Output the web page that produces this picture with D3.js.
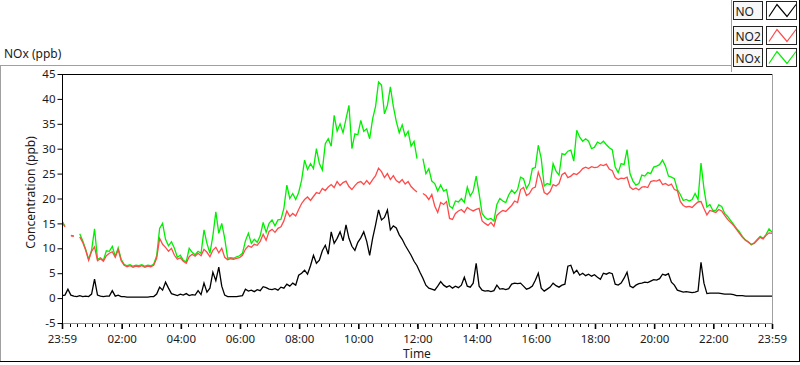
<!DOCTYPE html>
<html><head><meta charset="utf-8">
<script src="https://cdn.jsdelivr.net/npm/d3@7"></script>
<style>
body{margin:0;background:#fff;}
text{font-family:"Noto Sans","Segoe UI",sans-serif;fill:#1a1a1a;}
</style></head>
<body><svg id="c" width="800" height="365"></svg>
<script>
// ---- data (6-minute samples from 23:59 to 23:59 next day) ----
const startTime = new Date(2024, 0, 1, 23, 59);
const endTime = new Date(2024, 0, 2, 23, 59);
const sampleStepMinutes = 6;
const seriesNames = ["NO", "NO2", "NOx"];
const seriesColors = ["#000000", "#ff4a4a", "#00ee00"];
const yTickValues = [-5, 0, 5, 10, 15, 20, 25, 30, 35, 40, 45];
const xTickLabels = ["23:59","02:00","04:00","06:00","08:00","10:00","12:00","14:00","16:00","18:00","20:00","22:00","23:59"];
const xTickTimes = ["2024-01-01T23:59","2024-01-02T02:00","2024-01-02T04:00","2024-01-02T06:00","2024-01-02T08:00","2024-01-02T10:00","2024-01-02T12:00","2024-01-02T14:00","2024-01-02T16:00","2024-01-02T18:00","2024-01-02T20:00","2024-01-02T22:00","2024-01-02T23:59"];

const no2 = [
15.3,14.3,null,12.5,12.4,null,12.3,11.2,9.6,7.6,9.4,10.3,7.5,7.9,7.4,8.5,9.0,9.3,8.2,9.7,
7.5,6.6,6.3,6.5,6.2,6.4,6.3,6.5,6.2,6.4,6.3,6.6,8.0,12.0,10.8,10.2,9.4,10.0,8.6,7.8,
8.1,7.4,7.0,8.3,8.8,8.4,9.0,8.5,9.8,9.2,8.3,9.6,10.2,9.1,10.0,8.2,7.7,7.9,7.8,8.0,
8.1,8.6,9.8,10.5,10.2,10.8,10.6,11.4,12.8,11.6,13.4,13.8,13.2,14.0,14.3,15.5,17.5,16.4,17.0,16.5,
17.8,19.0,19.8,20.3,19.6,20.4,21.2,21.0,22.0,21.6,22.3,22.8,22.2,23.4,22.6,23.2,23.5,22.4,21.8,22.6,
23.2,23.4,22.8,23.6,22.9,23.8,24.6,26.1,25.4,24.2,25.0,23.8,24.6,23.6,23.2,23.8,22.9,23.4,22.4,21.8,
21.3,null,21.0,20.6,19.8,20.8,18.5,17.2,19.2,18.8,19.4,16.0,15.8,17.0,17.5,17.8,17.2,18.2,17.8,17.5,
17.8,18.0,15.5,15.0,14.6,15.2,14.4,16.6,17.2,17.6,17.4,18.0,18.6,19.5,19.2,21.8,22.2,20.6,21.0,22.0,
22.3,25.3,23.6,21.2,20.8,21.4,22.8,22.5,23.0,24.8,25.2,24.2,24.5,25.0,24.8,25.3,26.0,26.3,26.0,26.4,
26.2,26.3,26.8,26.6,26.9,25.9,25.6,24.2,23.8,24.1,24.0,24.3,22.3,21.8,22.1,21.7,22.3,22.4,22.2,23.4,
23.6,23.5,23.8,22.8,23.0,22.6,22.9,21.8,21.6,19.4,18.6,18.3,18.4,18.2,18.8,19.3,19.4,18.0,16.7,17.6,
17.4,17.2,17.8,17.5,16.6,15.8,15.2,14.6,13.8,13.0,12.2,11.6,11.2,10.8,11.0,11.6,12.2,11.9,12.6,13.1,
13.0];

const nox = [
15.5,14.4,null,12.6,12.5,null,12.9,11.5,9.8,7.8,9.6,13.9,7.8,8.1,7.6,9.5,9.4,10.4,8.4,10.1,
7.8,6.8,6.5,6.7,6.4,6.6,6.5,6.7,6.4,6.6,6.5,6.8,8.5,14.0,15.0,11.8,10.5,11.3,10.0,8.2,
8.6,7.6,7.3,10.0,9.2,8.7,9.4,9.0,13.7,11.0,9.0,12.5,17.3,13.0,15.0,12.0,8.0,8.1,8.0,8.3,
8.5,9.0,11.5,13.0,11.0,11.8,11.2,12.5,15.2,13.2,15.0,15.7,14.5,15.7,15.8,18.0,22.7,20.0,21.0,19.8,
21.2,23.7,27.7,25.8,27.0,26.0,30.0,27.0,25.7,31.0,32.0,30.5,36.7,33.5,35.0,33.2,36.0,38.7,30.0,33.0,
32.8,35.7,33.5,34.0,32.0,36.0,38.5,43.4,42.8,37.0,38.7,42.4,38.5,35.5,33.2,34.8,32.5,33.5,30.5,31.5,
28.0,null,28.0,25.0,26.0,23.5,23.0,21.5,22.7,21.5,21.8,18.5,18.0,19.5,19.3,20.0,19.2,22.3,20.5,21.5,
24.5,21.0,17.0,16.2,15.8,16.0,15.5,18.8,20.0,19.5,19.2,20.7,21.7,21.0,21.8,24.3,24.0,22.0,23.0,26.0,
26.2,30.7,28.0,22.5,23.0,22.8,27.0,25.5,24.7,29.0,28.8,29.5,29.7,27.5,33.7,32.3,31.5,32.0,31.5,30.0,
30.3,31.3,31.0,31.5,30.8,30.2,29.8,26.3,25.2,27.0,26.8,29.8,25.0,23.5,22.7,23.0,24.7,24.5,25.2,25.0,
26.3,26.5,26.8,27.7,26.5,24.5,24.3,24.0,21.8,20.8,19.6,19.8,19.5,19.8,21.0,19.8,27.1,22.0,18.3,18.8,
17.6,17.6,18.7,18.4,17.0,16.4,15.6,14.8,14.0,13.3,12.4,11.7,11.3,10.7,11.1,11.8,12.4,12.0,12.8,13.9,
13.2];

const no = [
0.5,0.6,1.8,0.6,0.4,0.3,0.5,0.3,0.4,0.3,0.8,3.8,0.6,0.4,0.3,0.4,0.4,1.5,0.4,0.6,
0.3,0.3,0.2,0.2,0.2,0.2,0.2,0.2,0.2,0.2,0.3,0.3,0.8,2.2,1.6,3.2,2.0,0.9,0.7,0.5,
0.8,0.6,0.9,0.5,0.7,0.6,1.5,0.7,3.0,1.2,2.0,5.2,3.5,6.2,2.4,0.6,0.3,0.3,0.3,0.3,
0.4,0.5,1.8,1.4,1.6,1.3,1.7,1.5,2.3,2.1,1.8,1.7,1.9,1.6,2.2,2.0,2.8,2.4,3.0,2.6,
4.6,5.0,5.6,4.8,6.5,8.6,7.0,7.6,9.5,10.6,8.8,13.3,11.0,12.0,13.3,11.5,14.7,12.0,10.4,9.6,
11.2,12.1,13.3,11.4,8.6,12.0,14.7,17.7,15.7,16.2,17.7,13.7,14.5,14.1,12.7,11.8,10.6,9.6,8.6,7.4,
6.5,5.2,4.0,2.6,2.0,1.8,1.6,2.4,3.3,2.6,2.2,2.5,2.0,2.4,2.1,2.6,4.2,2.4,2.2,3.0,
7.0,2.4,1.6,1.4,1.5,1.3,1.5,2.6,1.8,1.9,1.7,1.9,2.8,3.0,2.9,3.0,2.4,1.8,2.0,2.4,
3.6,5.0,2.0,1.4,1.8,2.2,3.0,2.5,2.2,2.6,2.8,6.4,6.6,5.0,5.6,4.6,5.0,4.5,4.8,4.4,
4.7,4.2,3.8,5.0,4.8,5.1,4.9,2.8,2.6,3.0,4.0,5.2,2.4,2.1,2.6,2.9,3.0,3.2,3.1,3.4,
3.7,3.6,3.9,4.8,4.6,4.9,3.2,2.6,1.6,1.4,1.2,1.3,1.2,1.1,1.2,1.4,7.2,3.0,0.9,1.0,
1.0,1.0,1.0,0.9,0.8,0.8,0.8,0.7,0.5,0.5,0.5,0.4,0.4,0.4,0.4,0.4,0.4,0.4,0.4,0.4,
0.4];

// ---- chart ----
const svg = d3.select("#c");
const X0 = 62, X1 = 772, Y0 = 74, Y1 = 323;
const times = no.map((_, i) => d3.timeMinute.offset(startTime, i * sampleStepMinutes));
const x = d3.scaleTime().domain([startTime, endTime]).range([X0, X1]);
const y = d3.scaleLinear().domain([-5, 45]).range([Y1, Y0]);

svg.append("rect").attr("width", 800).attr("height", 365).attr("fill", "#fff");

// outer panel frame
const ln = (x1, y1, x2, y2, c) => svg.append("line").attr("x1", x1).attr("y1", y1).attr("x2", x2).attr("y2", y2).attr("stroke", c).attr("stroke-width", 1);
ln(0, 65.5, 731, 65.5, "#a0a0a0");
ln(0.5, 65, 0.5, 362, "#a0a0a0");
ln(0, 361.5, 800, 361.5, "#000");
ln(799.5, 0, 799.5, 362, "#000");
ln(731.5, 0, 731.5, 72, "#a0a0a0");

// title
svg.append("text").attr("x", 4).attr("y", 58).attr("font-size", 12).text("NOx (ppb)");

// clip
svg.append("clipPath").attr("id", "pc").append("rect").attr("x", X0).attr("y", Y0).attr("width", X1 - X0).attr("height", Y1 - Y0);

// series lines
const line = d3.line().defined(d => d[1] != null).x(d => x(d[0])).y(d => y(d[1]));
const g = svg.append("g").attr("clip-path", "url(#pc)");
[[nox, 2], [no2, 1], [no, 0]].forEach(([arr, ci]) => {
  g.append("path").datum(arr.map((v, i) => [times[i], v]))
    .attr("d", line).attr("fill", "none").attr("stroke", seriesColors[ci])
    .attr("stroke-width", 1.3).attr("stroke-linejoin", "miter");
});

// plot frame
ln(X0, Y0 + 0.5, X1, Y0 + 0.5, "#000");
ln(X1 + 0.5, Y0, X1 + 0.5, Y1, "#a0a0a0");
ln(X0, Y1 + 0.5, X1 + 1, Y1 + 0.5, "#909090");
ln(X0 + 0.5, Y0, X0 + 0.5, Y1 + 1, "#000");

// y axis
const ya = svg.append("g").attr("transform", `translate(${X0 + 0.5},0)`)
  .call(d3.axisLeft(y).tickValues(yTickValues).tickSize(5).tickPadding(2).tickFormat(d => d < 0 ? "-" + Math.abs(d) : d));
ya.select(".domain").remove();
ya.selectAll("text").attr("font-size", 11.5).attr("font-family", null).attr("fill", "#1a1a1a");
ya.selectAll("line").attr("stroke", "#000");

// x axis: minor (15 min) + major labelled ticks
const minor = d3.timeMinute.every(15).range(startTime, endTime);
svg.append("g").selectAll("line").data(minor).join("line")
  .attr("x1", d => Math.round(x(d)) + 0.5).attr("x2", d => Math.round(x(d)) + 0.5)
  .attr("y1", Y1 + 1).attr("y2", Y1 + 4).attr("stroke", "#000");
const majors = xTickTimes.map(s => new Date(s));
const xa = svg.append("g").attr("transform", `translate(0,${Y1 + 1})`)
  .call(d3.axisBottom(x).tickValues(majors).tickSize(5).tickPadding(6).tickFormat((d, i) => xTickLabels[i]));
xa.select(".domain").remove();
xa.selectAll("line").attr("stroke", "#000").attr("stroke-width", 1.6);
xa.selectAll("text").attr("font-size", 11.5).attr("font-family", null).attr("fill", "#1a1a1a");

// axis titles
svg.append("text").attr("x", (X0 + X1) / 2).attr("y", 358).attr("text-anchor", "middle").attr("font-size", 12).text("Time");
svg.append("text").attr("transform", `translate(35,${(Y0 + Y1) / 2 - 6}) rotate(-90)`).attr("text-anchor", "middle").attr("font-size", 12).text("Concentration (ppb)");

// legend
const legY = [1.5, 26.5, 48.5];
seriesNames.forEach((name, i) => {
  const lg = svg.append("g").attr("transform", `translate(0,${legY[i]})`);
  lg.append("rect").attr("x", 733.5).attr("y", 0).attr("width", 29).attr("height", 18).attr("fill", "#f7f7f7").attr("stroke", "#222");
  lg.append("text").attr("x", 735.5).attr("y", 14).attr("font-size", 12).text(name);
  lg.append("rect").attr("x", 766.5).attr("y", 0).attr("width", 30).attr("height", 18).attr("fill", "#fff").attr("stroke", "#222");
  lg.append("path").attr("d", "M769,15L777,3L787,15L796,3").attr("fill", "none").attr("stroke", seriesColors[i]).attr("stroke-width", 1.2);
});
</script></body></html>
